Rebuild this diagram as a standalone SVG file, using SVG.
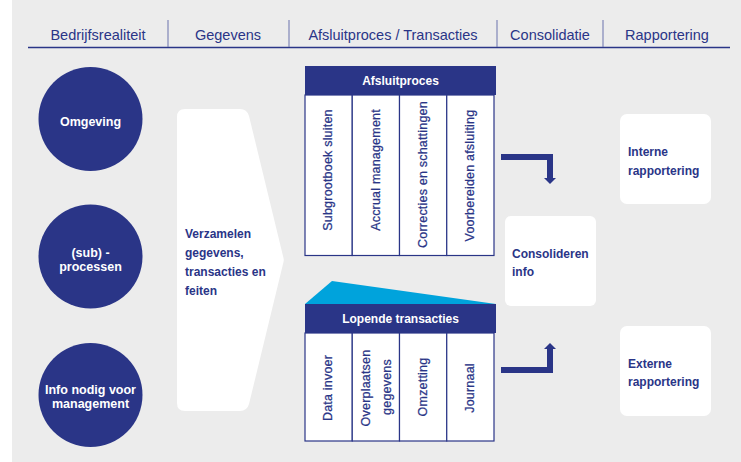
<svg xmlns="http://www.w3.org/2000/svg" width="741" height="462" viewBox="0 0 741 462">
<defs>
<style>
.hdr{font-family:"Liberation Sans",Arial,sans-serif;font-size:14.5px;fill:#2a3587;text-anchor:middle}
.circ{fill:#2a3587}
.ctxt{font-family:"Liberation Sans",Arial,sans-serif;font-size:12.5px;font-weight:bold;fill:#fff;text-anchor:middle}
.box{fill:#fff}
.btxt{font-family:"Liberation Sans",Arial,sans-serif;font-size:12px;font-weight:bold;fill:#2a3587}
.bar{fill:#2a3587}
.bartxt{font-family:"Liberation Sans",Arial,sans-serif;font-size:12px;font-weight:bold;fill:#fff;text-anchor:middle}
.col{fill:#fff;stroke:#2a3587;stroke-width:1.2}
.vtxt{font-family:"Liberation Sans",Arial,sans-serif;font-size:12.5px;fill:#2a3587;stroke:#2a3587;stroke-width:0.25;letter-spacing:0.2px;text-anchor:middle}
.conn{fill:none;stroke:#2a3587;stroke-width:6;stroke-linejoin:miter}
</style>
<marker id="ah" markerUnits="userSpaceOnUse" viewBox="0 0 6 12" refX="0" refY="6" markerWidth="6" markerHeight="12" orient="auto">
<path d="M0,0 L6,6 L0,12 Z" fill="#2a3587"/>
</marker>
</defs>
<rect x="0" y="0" width="741" height="462" fill="#fff"/>
<rect x="12" y="0" width="729" height="462" fill="#ececec"/>

<g id="header">
<text class="hdr" x="98" y="40">Bedrijfsrealiteit</text>
<text class="hdr" x="228" y="40">Gegevens</text>
<text class="hdr" x="393" y="40">Afsluitproces / Transacties</text>
<text class="hdr" x="550" y="40">Consolidatie</text>
<text class="hdr" x="667" y="40">Rapportering</text>
<line x1="28" y1="47.5" x2="730" y2="47.5" stroke="#2a3587" stroke-width="1.3"/>
<g stroke="#6a72ad" stroke-width="1">
<line x1="168" y1="20" x2="168" y2="47"/>
<line x1="289" y1="20" x2="289" y2="47"/>
<line x1="497" y1="20" x2="497" y2="47"/>
<line x1="603" y1="20" x2="603" y2="47"/>
</g>
</g>

<g id="omgeving">
<circle class="circ" cx="90.5" cy="119" r="52"/>
<text class="ctxt" x="90.5" y="126">Omgeving</text>
</g>
<g id="subprocessen">
<circle class="circ" cx="90.5" cy="256.5" r="52"/>
<text class="ctxt" x="90.5" y="257">(sub) -</text>
<text class="ctxt" x="90.5" y="271">processen</text>
</g>
<g id="infonodig">
<circle class="circ" cx="90.5" cy="395" r="52"/>
<text class="ctxt" x="90.5" y="394">Info nodig voor</text>
<text class="ctxt" x="90.5" y="408">management</text>
</g>

<g id="verzamelen">
<path class="box" d="M185,109 L240,109 Q247,109 249,116 L283.5,258 Q284,260 283.5,262 L249,404 Q247,411 240,411 L185,411 Q177,411 177,403 L177,117 Q177,109 185,109 Z"/>
<text class="btxt" x="185" y="238">Verzamelen</text>
<text class="btxt" x="185" y="257">gegevens,</text>
<text class="btxt" x="185" y="276">transacties en</text>
<text class="btxt" x="185" y="295">feiten</text>
</g>

<g id="afsluitproces">
<rect class="bar" x="305" y="66" width="191" height="29"/>
<text class="bartxt" x="400.5" y="85">Afsluitproces</text>
<rect class="col" x="305" y="95" width="47.25" height="160.5"/>
<rect class="col" x="352.25" y="95" width="47.25" height="160.5"/>
<rect class="col" x="399.5" y="95" width="47.25" height="160.5"/>
<rect class="col" x="446.75" y="95" width="47.25" height="160.5"/>
<text class="vtxt" transform="translate(328,170) rotate(-90)" dy="0.35em">Subgrootboek sluiten</text>
<text class="vtxt" transform="translate(376,170) rotate(-90)" dy="0.35em">Accrual management</text>
<text class="vtxt" transform="translate(423,174.5) rotate(-90)" dy="0.35em">Correcties en schattingen</text>
<text class="vtxt" transform="translate(470,175.5) rotate(-90)" dy="0.35em">Voorbereiden afsluiting</text>
</g>

<g id="lopende">
<polygon points="305,304 332,281 496,304" fill="#00a3dc"/>
<rect class="bar" x="305" y="304" width="191" height="29"/>
<text class="bartxt" x="400.5" y="323">Lopende transacties</text>
<rect class="col" x="305" y="333" width="47.25" height="108"/>
<rect class="col" x="352.25" y="333" width="47.25" height="108"/>
<rect class="col" x="399.5" y="333" width="47.25" height="108"/>
<rect class="col" x="446.75" y="333" width="47.25" height="108"/>
<text class="vtxt" transform="translate(328,388) rotate(-90)" dy="0.35em">Data invoer</text>
<text class="vtxt" transform="translate(366,388) rotate(-90)" dy="0.35em">Overplaatsen</text>
<text class="vtxt" transform="translate(387,387) rotate(-90)" dy="0.35em">gegevens</text>
<text class="vtxt" transform="translate(423,387) rotate(-90)" dy="0.35em">Omzetting</text>
<text class="vtxt" transform="translate(470,388) rotate(-90)" dy="0.35em">Journaal</text>
</g>

<g id="consolideren">
<rect class="box" x="505" y="216" width="91" height="90" rx="6"/>
<text class="btxt" x="512" y="258">Consolideren</text>
<text class="btxt" x="512" y="276">info</text>
</g>
<g id="interne">
<rect class="box" x="620" y="114" width="91" height="90" rx="7"/>
<text class="btxt" x="628" y="156">Interne</text>
<text class="btxt" x="628" y="175">rapportering</text>
</g>
<g id="externe">
<rect class="box" x="620" y="326" width="91" height="90" rx="7"/>
<text class="btxt" x="628" y="368">Externe</text>
<text class="btxt" x="628" y="386">rapportering</text>
</g>

<g id="connectors">
<path class="conn" d="M501,157 L550,157 L550,178" marker-end="url(#ah)"/>
<path class="conn" d="M501,370 L550,370 L550,349" marker-end="url(#ah)"/>
</g>
</svg>
